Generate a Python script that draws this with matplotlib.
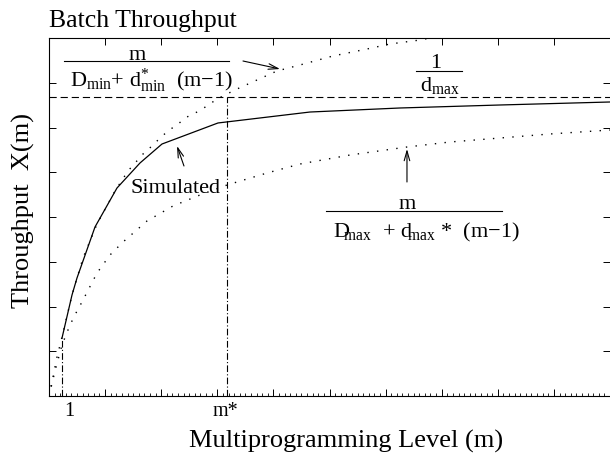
import matplotlib
matplotlib.use("Agg")
import matplotlib.pyplot as plt
import numpy as np

plt.rcParams['font.family'] = ['Liberation Serif', 'DejaVu Serif']
plt.rcParams['mathtext.fontset'] = 'custom'
plt.rcParams['mathtext.rm'] = 'Liberation Serif'
plt.rcParams['mathtext.it'] = 'Liberation Serif:italic'

# ---- data (x in axis-tick units, y in axis-tick units) ----
sim_x = [0.232, 0.41, 0.499, 0.82, 1.212, 1.622, 2.014, 3.012, 4.652, 6.257, 8.039, 10.0]
sim_y = [1.296, 2.257, 2.637, 3.777, 4.648, 5.207, 5.631, 6.101, 6.346, 6.436, 6.503, 6.57]

upper_x = [0, 0.071, 0.143, 0.232, 0.41, 0.606, 0.856, 1.176, 1.408, 1.676, 1.836, 1.979,
           2.121, 2.299, 2.46, 2.638, 2.816, 2.995, 3.173, 3.351, 4.064, 4.474, 5.062,
           5.668, 6.078, 6.613, 6.97]
upper_y = [0, 0.425, 0.872, 1.318, 2.257, 3.084, 3.844, 4.581, 5.028, 5.408, 5.587, 5.765,
           5.922, 6.078, 6.235, 6.346, 6.48, 6.637, 6.749, 6.86, 7.263, 7.397, 7.598,
           7.754, 7.866, 7.955, 8.045]

lower_x = [0, 0.107, 0.232, 0.374, 0.499, 0.588, 0.856, 1.087, 1.319, 1.747, 2.21, 2.692,
           3.173, 3.886, 4.474, 5.365, 6.381, 7.148, 8.039, 8.93, 10.0]
lower_y = [0, 0.559, 1.14, 1.587, 1.899, 2.101, 2.749, 3.151, 3.441, 3.911, 4.246, 4.492,
           4.715, 4.983, 5.184, 5.385, 5.564, 5.676, 5.765, 5.855, 5.944]

asymptote_y = 6.682      # 1/d_max
m_one_x = 0.232          # m = 1
m_star_x = 3.173         # m*

tick_label_text = ["1", "m*"]
tick_label_x = [0.357, 3.137]

fig = plt.figure(figsize=(6.1, 4.64), dpi=100)
ax = fig.add_axes([49/610, 67/464, 561/610, 358/464])
ax.set_xlim(0, 10)
ax.set_ylim(0, 8)

# curves
ax.plot(sim_x, sim_y, color='black', lw=0.9, solid_joinstyle='miter')
ax.plot(upper_x, upper_y, color='black', lw=1.0, linestyle=(0, (1, 6)))
ax.plot(lower_x, lower_y, color='black', lw=1.0, linestyle=(0, (1, 6)))
ax.axhline(asymptote_y, color='black', lw=0.8, linestyle=(0, (6.5, 3.5)))
ax.plot([m_one_x, m_one_x], [0, sim_y[0]], color='black', lw=0.8, linestyle=(0, (6, 2, 1, 2)))
ax.plot([m_star_x, m_star_x], [0, asymptote_y], color='black', lw=0.8, linestyle=(0, (6, 2, 1, 2)))

# ticks
ax.set_xticks(np.arange(0, 11, 1))
ax.set_xticks(np.arange(0, 10.001, 0.1), minor=True)
ax.set_yticks(np.arange(0, 9, 1))
ax.tick_params(axis='both', which='major', direction='in', length=5, width=0.7,
               top=True, right=True, labelbottom=False, labelleft=False)
ax.tick_params(axis='x', which='minor', direction='in', length=2, width=0.6,
               top=False, bottom=True)
ax.tick_params(axis='y', which='minor', left=False, right=False)
for s in ['left', 'bottom', 'top']:
    ax.spines[s].set_linewidth(0.8)
ax.spines['right'].set_visible(False)

xt = ax.get_xaxis_transform()
for lab, xv in zip(tick_label_text, tick_label_x):
    ax.text(xv, -0.053, lab, transform=xt, ha='center', va='baseline', fontsize=14.5)

# labels / title
ax.set_xlabel("Multiprogramming Level (m)", fontsize=19, va='center')
ax.xaxis.set_label_coords(0.529, -0.123)
ax.set_ylabel("Throughput  X(m)", fontsize=19, va='center')
ax.yaxis.set_label_coords(-0.046, 0.52)
ax.set_title("Batch Throughput", loc='left', fontsize=18.5, pad=8.6)

fs = 16
MINUS = "\u2212"
# upper bound formula
ax.text(1.569, 7.531, "m", ha='center', va='baseline', fontsize=fs)
ax.plot([0.267, 3.209], [7.486, 7.486], color='black', lw=0.8)
ax.text(0.374, 6.927,
        r"$\mathrm{D}_{\mathrm{min}}$+ $\mathrm{d}^{*}_{\mathrm{min}}$  (m" + MINUS + "1)",
        ha='left', va='baseline', fontsize=fs)
ax.annotate('', xy=(4.118, 7.307), xytext=(3.458, 7.486),
            arrowprops=dict(arrowstyle='->,head_length=0.7,head_width=0.2', lw=0.8,
                            color='black', shrinkA=0, shrinkB=0))

# asymptote formula
ax.text(6.898, 7.352, "1", ha='center', va='baseline', fontsize=fs)
ax.plot([6.542, 7.362], [7.263, 7.263], color='black', lw=0.8)
ax.text(6.613, 6.838, r"$\mathrm{d}_{\mathrm{max}}$", ha='left', va='baseline', fontsize=fs)

# simulated
ax.text(2.246, 4.559, "Simulated", ha='center', va='baseline', fontsize=16)
ax.annotate('', xy=(2.282, 5.587), xytext=(2.406, 5.14),
            arrowprops=dict(arrowstyle='->,head_length=0.7,head_width=0.2', lw=0.8,
                            color='black', shrinkA=0, shrinkB=0))

# lower bound formula
ax.text(6.381, 4.201, "m", ha='center', va='baseline', fontsize=fs)
ax.plot([4.938, 8.075], [4.134, 4.134], color='black', lw=0.8)
ax.text(5.062, 3.575,
        r"$\mathrm{D}_{\!\!\!\mathrm{max}}$  + $\mathrm{d}_{\!\!\mathrm{max}}$ *  (m" + MINUS + "1)",
        ha='left', va='baseline', fontsize=fs)
ax.annotate('', xy=(6.381, 5.52), xytext=(6.381, 4.782),
            arrowprops=dict(arrowstyle='->,head_length=0.7,head_width=0.2', lw=0.8,
                            color='black', shrinkA=0, shrinkB=0))

fig.savefig("out.png", dpi=100)
